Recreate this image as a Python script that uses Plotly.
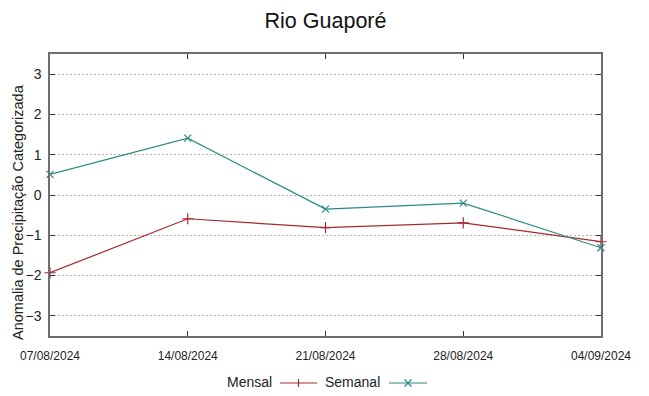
import plotly.graph_objects as go

dates = ["2024-08-07", "2024-08-14", "2024-08-21", "2024-08-28", "2024-09-04"]
date_labels = ["07/08/2024", "14/08/2024", "21/08/2024", "28/08/2024", "04/09/2024"]
mensal = [-1.93, -0.59, -0.81, -0.69, -1.16]
semanal = [0.51, 1.41, -0.35, -0.20, -1.31]
y_ticks = [-3, -2, -1, 0, 1, 2, 3]

red = "#a8282c"
teal = "#2a8a8a"
axis_col = "#6e6e6e"

OFF = 8  # page body margin offset
W, H = 649, 396
L, R, T, B = 50 - OFF, 48 + OFF, 54 - OFF, 60 + OFF
PW, PH = W - L - R, H - T - B

fig = go.Figure()
fig.add_trace(go.Scatter(x=dates, y=mensal, mode="lines+markers", name="Mensal",
                         line=dict(color=red, width=1.2),
                         marker=dict(symbol="cross-thin-open", size=8, line=dict(color=red, width=1.2)),
                         showlegend=False, cliponaxis=False))
fig.add_trace(go.Scatter(x=dates, y=semanal, mode="lines+markers", name="Semanal",
                         line=dict(color=teal, width=1.2),
                         marker=dict(symbol="x-thin-open", size=7, line=dict(color=teal, width=1.2)),
                         showlegend=False, cliponaxis=False))

fig.update_layout(
    width=W, height=H,
    margin=dict(l=L, r=R, t=T, b=B, autoexpand=False),
    paper_bgcolor="white", plot_bgcolor="white",
    font=dict(family="Liberation Sans, Arial, sans-serif", color="#111111"),
    title=dict(text="Rio Guaporé", x=0.5, xanchor="center", xref="paper",
               y=1 - (20 - OFF) / H, yanchor="middle",
               font=dict(size=21.5, color="#111111")),
    xaxis=dict(type="date", range=[dates[0], dates[-1]], tickvals=dates, ticktext=date_labels,
               automargin=False,
               showgrid=False, zeroline=False, showline=True, linecolor=axis_col, linewidth=1.5,
               mirror="ticks", ticks="inside", ticklen=5, tickcolor="#333333",
               ticklabelstandoff=8,
               tickfont=dict(family="Liberation Sans, sans-serif", size=12, color="#222222")),
    yaxis=dict(range=[-3.5, 3.5], tickvals=y_ticks, showgrid=True, gridcolor="#b4b4b4",
               griddash="2px,2px", gridwidth=1, zeroline=False, showline=True, linecolor=axis_col,
               automargin=False, ticklabelstandoff=4,
               linewidth=1.5, mirror="ticks", ticks="inside", ticklen=5, tickcolor="#333333",
               tickfont=dict(size=14, color="#222222")),
)

def px_x(px):
    return (px - OFF - L) / PW
def px_y(py):
    return (H - B - (py - OFF)) / PH

# y-axis title
fig.add_annotation(x=px_x(18), y=px_y(212), xref="paper", yref="paper",
                   text="Anomalia de Precipitação Categorizada", textangle=-90,
                   showarrow=False, xanchor="center", yanchor="middle",
                   font=dict(size=14.5, color="#222222"))

# custom gnuplot-style legend (text before sample)
leg_y = 383
fig.add_annotation(x=px_x(274), y=px_y(leg_y - 1), xref="paper", yref="paper", text="Mensal",
                   showarrow=False, xanchor="right", yanchor="middle", font=dict(size=14, color="#222222"))
fig.add_shape(type="line", xref="paper", yref="paper", x0=px_x(280), x1=px_x(317),
              y0=px_y(leg_y), y1=px_y(leg_y), line=dict(color=red, width=1.2))
fig.add_shape(type="line", xref="paper", yref="paper", x0=px_x(298.5), x1=px_x(298.5),
              y0=px_y(leg_y - 4), y1=px_y(leg_y + 4), line=dict(color=red, width=1.2))
fig.add_annotation(x=px_x(382), y=px_y(leg_y - 1), xref="paper", yref="paper", text="Semanal",
                   showarrow=False, xanchor="right", yanchor="middle", font=dict(size=14, color="#222222"))
fig.add_shape(type="line", xref="paper", yref="paper", x0=px_x(389), x1=px_x(427),
              y0=px_y(leg_y), y1=px_y(leg_y), line=dict(color=teal, width=1.2))
fig.add_shape(type="line", xref="paper", yref="paper", x0=px_x(404.5), x1=px_x(411.5),
              y0=px_y(leg_y - 3.5), y1=px_y(leg_y + 3.5), line=dict(color=teal, width=1.2))
fig.add_shape(type="line", xref="paper", yref="paper", x0=px_x(404.5), x1=px_x(411.5),
              y0=px_y(leg_y + 3.5), y1=px_y(leg_y - 3.5), line=dict(color=teal, width=1.2))

fig.write_html("out.html")
